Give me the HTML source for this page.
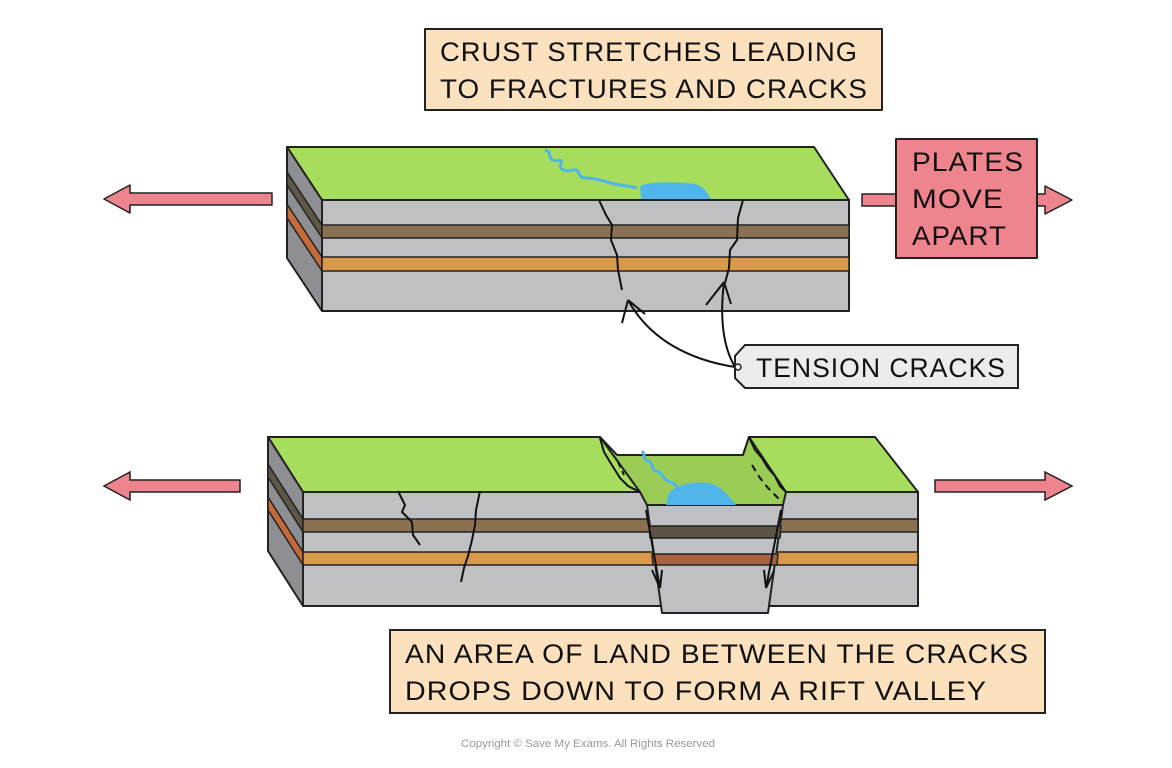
<!DOCTYPE html>
<html><head><meta charset="utf-8"><style>html,body{margin:0;padding:0;background:#fff}svg{display:block}</style></head><body>
<svg width="1172" height="768" viewBox="0 0 1172 768" xmlns="http://www.w3.org/2000/svg" font-family="Liberation Sans, sans-serif">
<g stroke="#222" stroke-width="2" stroke-linejoin="round">
<!-- title box -->
<rect x="425" y="29" width="457" height="81" fill="#fbe1bd"/>
<!-- top arrows -->
<polygon points="272,193 130,193 130,185 104,199 130,213 130,205 272,205" fill="#ee848d" stroke-width="1.5"/>
<polygon points="862,194 1045,194 1045,186 1072,200 1045,214 1045,206 862,206" fill="#ee848d" stroke-width="1.5"/>
<rect x="896" y="139" width="141" height="119" fill="#ee848d"/>
<!-- top block -->
<polygon points="287,147 814,147 849,200 322,200" fill="#a6dd5c"/>
<polygon points="287,147 322,200 322,311 287,258" fill="#8e8f93"/>
<polygon points="287,172 322,225 322,238 287,185" fill="#5e5646" stroke-width="1.5"/>
<polygon points="287,204 322,257 322,271 287,218" fill="#c46a3a" stroke-width="1.5"/>
<rect x="322" y="200" width="527" height="111" fill="#bfc0c3"/>
<rect x="322" y="225" width="527" height="13" fill="#8a7152" stroke-width="1.5"/>
<rect x="322" y="257" width="527" height="14" fill="#d9994a" stroke-width="1.5"/>
</g>
<path d="M545,150 c8,2 2,8 8,10 c6,2 10,-2 8,4 c-3,6 6,8 12,6 c8,-2 4,8 12,8 c12,0 20,4 30,6 c10,2 14,2 22,4" fill="none" stroke="#4fb5ea" stroke-width="3"/>
<path d="M640,186 c10,-5 40,-4 55,-2 c8,2 12,8 16,15 l-70,0 z" fill="#4fb5ea"/>
<g fill="none" stroke="#111" stroke-width="2">
<path d="M599,200 L606,215 L612,225 L611,240 L617,255 L618,270 L622,290"/>
<path d="M743,200 L738,218 L737,240 L730,250 L729,268 L725,283"/>
<path d="M735,367 C690,360 650,340 628,300 M628,300 L622,323 M628,300 L645,314"/>
<path d="M735,367 C722,345 720,315 724,282 M724,282 L706,305 M724,282 L731,304"/>
</g>
<polygon points="745,345 1018,345 1018,388 745,388 735,378 735,356" fill="#ececec" stroke="#222" stroke-width="2"/>
<circle cx="738" cy="367" r="3" fill="#fff" stroke="#222" stroke-width="1.5"/>
<!-- bottom arrows -->
<g stroke="#222" stroke-width="1.5">
<polygon points="240,480 130,480 130,472 104,486 130,500 130,492 240,492" fill="#ee848d"/>
<polygon points="935,480 1045,480 1045,472 1072,486 1045,500 1045,492 935,492" fill="#ee848d"/>
</g>
<!-- bottom block -->
<g stroke="#222" stroke-width="2" stroke-linejoin="round">
<polygon points="268,437 600,437 617,455 743,455 749,437 875,437 918,492 303,492" fill="#a6dd5c"/>
<polygon points="268,437 303,492 303,606 268,551" fill="#8e8f93"/>
<polygon points="268,464 303,519 303,532 268,477" fill="#5e5646" stroke-width="1.5"/>
<polygon points="268,497 303,552 303,565 268,510" fill="#c46a3a" stroke-width="1.5"/>
<rect x="303" y="492" width="615" height="114" fill="#bfc0c3"/>
<rect x="303" y="519" width="615" height="13" fill="#8a7152" stroke-width="1.5"/>
<rect x="303" y="552" width="615" height="13" fill="#d9994a" stroke-width="1.5"/>
<polygon points="600,437 617,455 743,455 749,437 786,492 783,505 647,505 640,492" fill="#9bcc55"/>
<polygon points="647,505 783,505 768,613 662,613" fill="#bfc0c3"/>
<polygon points="649,526 781,526 780,538 650,538" fill="#5e5444" stroke-width="1.5"/>
<polygon points="652,554 778,554 777,565 653,565" fill="#a8603e" stroke-width="1.5"/>
</g>
<path d="M668,495 c5,-10 25,-14 40,-12 c12,2 20,12 28,22 l-70,0 z" fill="#4fb5ea"/>
<path d="M642,451 c4,4 0,8 6,10 c6,2 2,8 8,10 c8,2 6,8 12,10 c6,2 8,4 12,10" fill="none" stroke="#4fb5ea" stroke-width="3"/>
<g fill="none" stroke="#111" stroke-width="2">
<path d="M600,438 L604,452 L610,462 L615,470 L620,478 L628,486 L640,492"/>
<path d="M749,437 L755,450 L762,458 L768,468 L775,476 L780,486 L786,492" />
<path d="M752,465 L760,478 L768,488 L780,500" stroke-dasharray="7,5"/>
<path d="M618,462 L624,475" stroke-dasharray="6,4"/>
<path d="M398,491 L405,505 L402,512 L412,522 L413,535 L420,545"/>
<path d="M480,491 L476,510 L475,525 L472,540 L468,556 L464,568 L461,582"/>
<path d="M646,510 L660,588 M660,588 L652,570 M660,588 L662,570"/>
<path d="M781,510 L766,588 M766,588 L764,570 M766,588 L774,571"/>
</g>
<rect x="390" y="630" width="655" height="83" fill="#fbe1bd" stroke="#222" stroke-width="2"/>
<g fill="#111" font-size="27" letter-spacing="1">
<text x="440" y="61" textLength="418" lengthAdjust="spacingAndGlyphs">CRUST STRETCHES LEADING</text>
<text x="440" y="98" textLength="428" lengthAdjust="spacingAndGlyphs">TO FRACTURES AND CRACKS</text>
<text x="912" y="171" textLength="112" lengthAdjust="spacingAndGlyphs">PLATES</text>
<text x="912" y="208" textLength="92" lengthAdjust="spacingAndGlyphs">MOVE</text>
<text x="912" y="245" textLength="95" lengthAdjust="spacingAndGlyphs">APART</text>
<text x="756" y="377" textLength="250" lengthAdjust="spacingAndGlyphs">TENSION CRACKS</text>
<text x="405" y="663" textLength="624" lengthAdjust="spacingAndGlyphs">AN AREA OF LAND BETWEEN THE  CRACKS</text>
<text x="405" y="700" textLength="582" lengthAdjust="spacingAndGlyphs">DROPS DOWN TO FORM A RIFT VALLEY</text>
</g>
<text x="461" y="747" font-size="11" fill="#999" textLength="254" lengthAdjust="spacingAndGlyphs">Copyright © Save My Exams. All Rights Reserved</text>
</svg>
</body></html>
